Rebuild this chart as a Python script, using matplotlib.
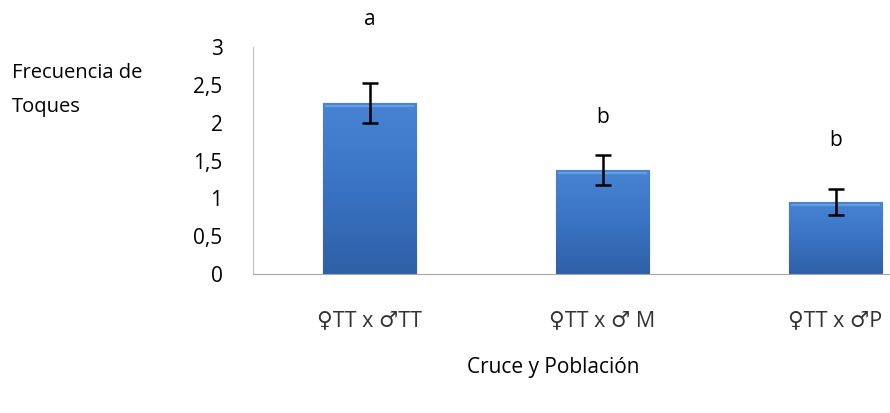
import matplotlib.pyplot as plt
import numpy as np
from matplotlib.ticker import FuncFormatter

plt.rcParams['font.family'] = ['Open Sans', 'DejaVu Sans']

cruces = ['♀TT x ♂TT', '♀TT x ♂ M', '♀TT x ♂P']
frecuencia = [2.26, 1.37, 0.95]
error = [0.27, 0.20, 0.17]
letras = ['a', 'b', 'b']
letra_y = [3.36, 2.07, 1.77]

fig = plt.figure(figsize=(8.9, 4.13), dpi=100)
# axes runs past the right edge, the last category slot is cut off
ax = fig.add_axes([253 / 890, 1 - 274 / 413, 699 / 890, 227 / 413])

x = np.arange(len(cruces))
bars = ax.bar(x, frecuencia, width=0.40, color='#3b73c4', edgecolor='#2a5590',
              linewidth=0.8, zorder=2)

# vertical shading inside each bar
grad = np.linspace(0, 1, 256).reshape(-1, 1)
cmap = plt.matplotlib.colors.LinearSegmentedColormap.from_list(
    'barra', ['#2e60a6', '#3a73c4', '#4884d4'])
for b in bars:
    x0, w, h = b.get_x(), b.get_width(), b.get_height()
    im = ax.imshow(grad, extent=[x0, x0 + w, 0, h], origin='lower', cmap=cmap,
                   aspect='auto', zorder=2.5)
    im.set_clip_path(b)
    ax.plot([x0 + 0.012, x0 + w - 0.012], [h - 0.04, h - 0.04],
            color='#7fb0ec', lw=1.5, alpha=0.6, zorder=2.6)

ax.errorbar(x, frecuencia, yerr=error, fmt='none', ecolor='black',
            elinewidth=1.8, capsize=6, capthick=1.8, zorder=3)

for xi, t, yi in zip(x, letras, letra_y):
    ax.text(xi, yi, t, ha='center', va='center', fontsize=15, clip_on=False)

ax.set_xlim(-0.5, 2.5)
ax.set_ylim(0, 3)
ax.set_yticks([0, 0.5, 1, 1.5, 2, 2.5, 3])
ax.yaxis.set_major_formatter(FuncFormatter(lambda v, p: f'{v:g}'.replace('.', ',')))
ax.set_xticks(x)
ax.set_xticklabels(cruces, fontsize=15.5, color='#333333')
ax.tick_params(axis='y', length=0, pad=22, labelsize=15)
ax.tick_params(axis='x', length=0, pad=26)

for s in ['top', 'right']:
    ax.spines[s].set_visible(False)
ax.spines['left'].set_color('#bfbfbf')
ax.spines['bottom'].set_color('#a6a6a6')

fig.text(12 / 890, 1 - 90 / 413, 'Frecuencia de\nToques', fontsize=14.5,
         ha='left', va='center', linespacing=1.9)
fig.text(553 / 890, 1 - 367 / 413, 'Cruce y Población', fontsize=15,
         ha='center', va='center')

fig.savefig('out.png', dpi=100)
